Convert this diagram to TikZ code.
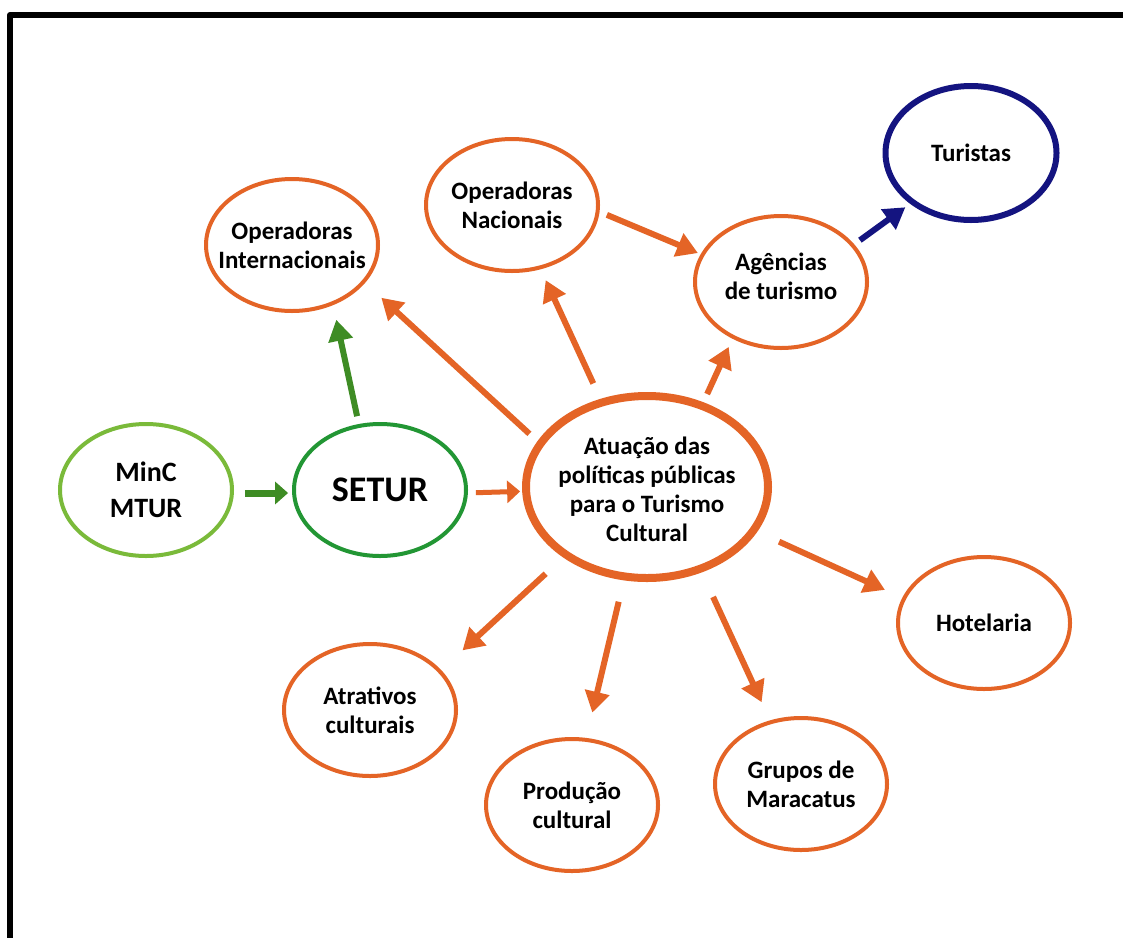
\documentclass[tikz,border=0pt]{standalone}
\usepackage{fontspec}
\setmainfont{Carlito}
\usetikzlibrary{shapes.geometric,arrows.meta}
\definecolor{laranja}{RGB}{228,100,38}
\definecolor{verdeclaro}{RGB}{122,186,58}
\definecolor{verde}{RGB}{34,150,52}
\definecolor{verdeseta}{RGB}{62,140,36}
\definecolor{azul}{RGB}{20,20,128}
\begin{document}
\begin{tikzpicture}[x=1pt,y=-1pt, font=\bfseries\fontsize{25}{29}\selectfont, line join=round,
	bola/.style={ellipse, draw=laranja, line width=4pt, minimum width=172pt, minimum height=132pt, inner sep=0pt, outer sep=0pt},
	rot/.style={align=center},
	seta/.style={draw=laranja, line width=6pt, -{Triangle[length=21pt,width=24pt]}},
	setacurta/.style={line width=6pt, -{Triangle[length=13pt,width=22pt]}}]
		\useasboundingbox[fill=white] (0,0) rectangle (1123,937);
		\clip (0,0) rectangle (1123,937);
		\draw[line width=6pt] (10,15) rectangle (1140,960);
		\node[bola, draw=verdeclaro, label={[rot, font=\bfseries\fontsize{28}{36}\selectfont]center:MinC\\MTUR}] (minc) at (146,490) {};
		\node[bola, draw=verde, label={[rot, font=\bfseries\fontsize{36}{40}\selectfont]center:SETUR}] (setur) at (380,490) {};
		\node[bola, line width=8pt, minimum width=242pt, minimum height=182pt, label={[rot, yshift=-2pt]center:Atuação das\\políticas públicas\\para o Turismo\\Cultural}] (cen) at (647,487) {};
		\node[bola, label={[rot]center:Operadoras\\Internacionais}] (opi) at (292,245) {};
		\node[bola, label={[rot]center:Operadoras\\Nacionais}] (opn) at (512,205) {};
		\node[bola, label={[rot, yshift=6pt]center:Agências\\de turismo}] (age) at (781,282) {};
		\node[bola, draw=azul, line width=6pt, minimum width=171pt, minimum height=134pt, label={[rot]center:Turistas}] (tur) at (971,153) {};
		\node[bola, label={[rot]center:Hotelaria}] (hot) at (984,623) {};
		\node[bola, label={[rot]center:Grupos de\\Maracatus}] (gru) at (801,784) {};
		\node[bola, label={[rot]center:Produção\\cultural}] (pro) at (572,805) {};
		\node[bola, label={[rot]center:Atrativos\\culturais}] (atr) at (370,710) {};
		\draw[setacurta, draw=verdeseta, line width=7pt, shorten <=13pt, shorten >=6pt] (minc.-2) -- (setur.182);
		\draw[setacurta, draw=laranja, line width=5pt, shorten <=10pt, shorten >=6pt] (setur.-2) -- (cen.182);
		\draw[seta, draw=verdeseta, shorten <=10pt, shorten >=17pt] (setur.108) -- (opi.-55);
		\draw[seta, shorten <=15pt, shorten >=24pt] (cen.158) -- (opi.-27);
		\draw[seta, shorten <=21pt, shorten >=14pt] (cen.118) -- (opn.-66);
		\draw[seta, shorten <=13pt, shorten >=11pt] (cen.56) -- (age.229);
		\draw[seta, shorten <=10pt, shorten >=5pt] (opn.-4) -- (age.161);
		\draw[seta, draw=azul, shorten <=9pt, shorten >=9pt] (age.27) -- (tur.220);
		\draw[seta, shorten <=28pt, shorten >=21pt] (cen.-22) -- (hot.163);
		\draw[seta, shorten <=31pt, shorten >=22pt] (cen.-57) -- (gru.116);
		\draw[seta, shorten <=26pt, shorten >=28pt] (cen.256) -- (pro.78);
		\draw[seta, shorten <=28pt, shorten >=31pt] (cen.220) -- (atr.29);
\end{tikzpicture}
\end{document}
